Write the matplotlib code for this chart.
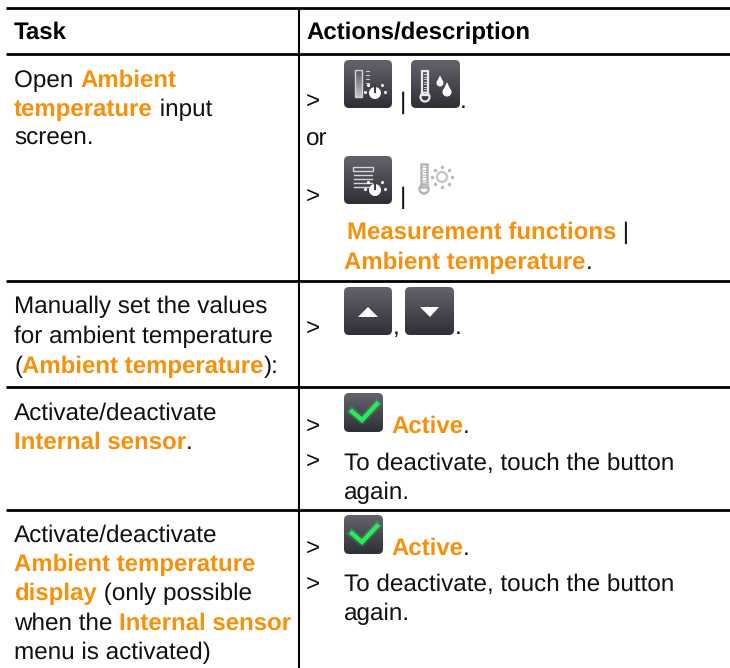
import numpy as np
import matplotlib
matplotlib.use('Agg')
import matplotlib.pyplot as plt
from matplotlib.colors import LinearSegmentedColormap
from matplotlib.patches import FancyBboxPatch, Polygon, Circle, Rectangle

plt.rcParams['font.family'] = ['Liberation Sans', 'DejaVu Sans']
plt.rcParams['text.hinting'] = 'no_hinting'

# n = normal, b = bold black, o = bold orange
header_cells = ["Task", "Actions/description"]
task_lines = [
    [("n", "Open "), ("o", "Ambient")],
    [("o", "temperature"), ("n", " input")],
    [("n", "screen.")],
    [("n", "Manually set the values")],
    [("n", "for ambient temperature")],
    [("n", "("), ("o", "Ambient temperature"), ("n", "):")],
    [("n", "Activate/deactivate")],
    [("o", "Internal sensor"), ("n", ".")],
    [("n", "Activate/deactivate")],
    [("o", "Ambient temperature")],
    [("o", "display"), ("n", " (only possible")],
    [("n", "when the "), ("o", "Internal sensor")],
    [("n", "menu is activated)")],
]
task_baselines = [87, 116, 145, 313, 343, 373, 420, 449, 542, 571, 600, 630, 659]

action_lines = [
    (306, 108, [("n", ">")]),
    (306, 146, [("n", "or")]),
    (306, 203, [("n", ">")]),
    (347, 239, [("o", "Measurement functions"), ("n", " |")]),
    (344, 269, [("o", "Ambient temperature"), ("n", ".")]),
    (306, 335, [("n", ">")]),
    (306, 433, [("n", ">")]),
    (391, 433, [("o", "Active"), ("n", ".")]),
    (306, 468, [("n", ">")]),
    (344, 470, [("n", "To deactivate, touch the button")]),
    (344, 499, [("n", "again.")]),
    (306, 555, [("n", ">")]),
    (391, 555, [("o", "Active"), ("n", ".")]),
    (306, 591, [("n", ">")]),
    (344, 591, [("n", "To deactivate, touch the button")]),
    (344, 620, [("n", "again.")]),
]
small_marks = [(399.5, 109, "|"), (460, 108, "."), (399.5, 204, "|"), (393, 334, ","), (455, 334, ".")]

row_lines = [8, 54, 281, 387, 510]
orange = "#f7900a"

fig = plt.figure(figsize=(7.30, 6.68), dpi=100)
ax = fig.add_axes([0, 0, 1, 1])
ax.set_xlim(0, 730)
ax.set_ylim(668, 0)
ax.axis("off")
renderer = fig.canvas.get_renderer()
fs = 17.45
fs_bold = 17.25


def run_width(s, size, **kw):
    # pad with letters so leading/trailing spaces get counted
    a = ax.text(0, 0, "n" + s + "n", fontsize=size, **kw)
    b = ax.text(0, 0, "nn", fontsize=size, **kw)
    w = a.get_window_extent(renderer).width - b.get_window_extent(renderer).width
    a.remove()
    b.remove()
    return w


def draw_runs(x, y, runs):
    for style, s in runs:
        size = fs_bold
        kw = {"fontweight": "bold", "color": orange}
        if style == "n":
            size = fs
            kw = {"fontweight": "normal", "color": "#111111"}
        if style == "b":
            kw = {"fontweight": "bold", "color": "black"}
        ax.text(x, y, s, fontsize=size, va="baseline", ha="left", **kw)
        x += run_width(s, size, **kw)


def button(x0, y0, x1, y1):
    cmap = LinearSegmentedColormap.from_list("btn", ["#63636c", "#2e2f37"])
    im = ax.imshow(np.linspace(0, 1, 64).reshape(-1, 1), extent=(x0, x1, y1, y0),
                   cmap=cmap, aspect="auto", zorder=2)
    box = FancyBboxPatch((x0 + 3, y0 + 3), x1 - x0 - 6, y1 - y0 - 6,
                         boxstyle="round,pad=3,rounding_size=5", fc="none", ec="none",
                         transform=ax.transData)
    ax.add_patch(box)
    im.set_clip_path(box)


def thermo(cx, top, bottom, color, lw=1.6):
    ax.add_patch(Rectangle((cx - 3, top), 6, bottom - top - 5, fc="none", ec=color, lw=lw, zorder=3))
    ax.add_patch(Circle((cx, bottom - 3), 4.5, fc="none", ec=color, lw=lw, zorder=3))
    for yy in np.arange(top + 3, bottom - 8, 2.5):
        ax.plot([cx - 1.5, cx + 1.5], [yy, yy], color=color, lw=0.6, zorder=3)


def drop(cx, cy, r):
    ax.add_patch(Circle((cx, cy), r, fc="white", ec="none", zorder=3))
    ax.add_patch(Polygon([[cx - r + 0.4, cy - 1], [cx + r - 0.4, cy - 1], [cx, cy - 2.2 * r]],
                         fc="white", ec="none", zorder=3))


def dial(cx, cy, color="white"):
    ax.add_patch(Circle((cx, cy), 6, fc=color, ec="none", zorder=3))
    ax.plot([cx, cx], [cy - 8, cy - 1], color="#3a3b43", lw=1.5, zorder=4)
    ax.scatter([cx - 10, cx - 7, cx + 7, cx + 10], [cy - 1, cy - 8, cy - 8, cy - 1],
               s=5, color=color, zorder=3, linewidths=0)


# table rules
for y in row_lines:
    ax.plot([6, 730], [y, y], color="black", lw=2.0, solid_capstyle="butt")
ax.plot([299, 299], [8, 668], color="black", lw=1.5, solid_capstyle="butt")

# text
draw_runs(14, 39, [("b", header_cells[0])])
draw_runs(306, 39, [("b", header_cells[1])])
for runs, base in zip(task_lines, task_baselines):
    draw_runs(14, base, runs)
for x, y, runs in action_lines:
    draw_runs(x, y, runs)
for x, y, s in small_marks:
    ax.text(x, y, s, fontsize=fs, color="#111111", va="baseline")

# first row buttons
button(344, 60, 392, 108)
bar = ax.imshow(np.linspace(0, 1, 32).reshape(-1, 1), extent=(355, 362, 97, 70),
                cmap=LinearSegmentedColormap.from_list("bar", ["#55565d", "#c4c4c8"]),
                aspect="auto", zorder=3)
ax.add_patch(Rectangle((355, 70), 7, 27, fc="none", ec="#d5d5d8", lw=1, zorder=3))
for yy in range(71, 86, 4):
    ax.plot([366, 369], [yy, yy], color="#c8c8cc", lw=0.8, zorder=3)
dial(375, 93)

button(411, 60, 460, 108)
thermo(425, 71, 100, "#e8e8ea")
drop(440, 83, 3.5)
drop(447, 92, 4.5)

button(344, 156, 392, 204)
ax.add_patch(Rectangle((353, 167), 20, 4, fc="none", ec="#d5d5d8", lw=1, zorder=3))
for yy in range(175, 190, 4):
    ax.plot([354, 372], [yy, yy], color="#d5d5d8", lw=1, zorder=3)
dial(375, 190)

thermo(424, 164, 192, "#b5b8b5", lw=1.8)
ax.add_patch(Circle((442, 177), 5, fc="white", ec="#c8cac8", lw=1.8, zorder=3))
ax.scatter([432, 452, 442, 442, 435, 449, 435, 449], [177, 177, 167, 187, 170, 170, 184, 184],
           s=6, color="#b8bab8", zorder=3, linewidths=0)

# arrows row
button(344, 287, 392, 335)
ax.add_patch(Polygon([[358, 317], [378, 317], [368, 307]], fc="white", ec="none", zorder=3))
button(405, 287, 454, 335)
ax.add_patch(Polygon([[420, 307], [439, 307], [430, 317]], fc="white", ec="none", zorder=3))

# check buttons with a soft glow behind the tick
for top in [393, 515]:
    button(344, top, 383, top + 39)
    xs, ys = [352, 362, 377], [top + 18.5, top + 27, top + 11]
    ax.plot(xs, ys, color="#22dd55", lw=6, alpha=0.25, zorder=3)
    ax.plot(xs, ys, color="#2be85c", lw=3.2, solid_joinstyle="miter", zorder=3)

ax.set_xlim(0, 730)
ax.set_ylim(668, 0)
fig.savefig("out.png", dpi=100)
